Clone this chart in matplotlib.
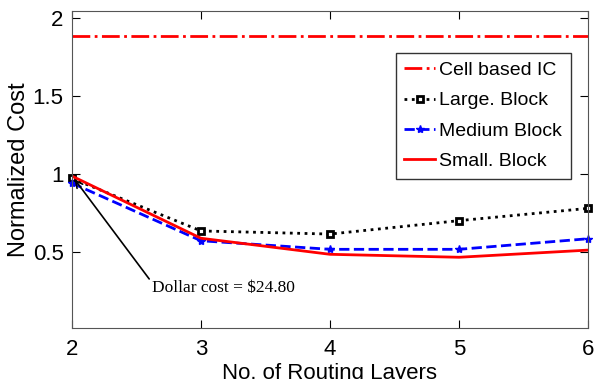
import numpy as np
import matplotlib.pyplot as plt

layers = [2, 3, 4, 5, 6]
cell_ic = [1.885, 1.885, 1.885, 1.885, 1.885]
large_block = [0.97, 0.633, 0.613, 0.699, 0.778]
medium_block = [0.94, 0.57, 0.515, 0.515, 0.583]
small_block = [0.985, 0.586, 0.483, 0.464, 0.51]

plt.rcParams['font.family'] = ['Liberation Sans', 'DejaVu Sans']

fig = plt.figure(figsize=(5.94, 3.79), dpi=100)
ax = fig.add_axes([0.1212, 0.1346, 0.8687, 0.8364])

ax.plot(layers, cell_ic, '-.', color='red', lw=2, label='Cell based IC')
ax.plot(layers, large_block, ':', color='black', lw=2, marker='s', ms=5,
        mfc='white', mec='black', mew=2, label='Large. Block', clip_on=False)
ax.plot(layers, medium_block, '--', color='blue', lw=2, marker='*', ms=6,
        label='Medium Block', clip_on=False)
ax.plot(layers, small_block, '-', color='red', lw=2, label='Small. Block')

ax.annotate('Dollar cost = $24.80', xy=(2.02, 0.965), xytext=(2.62, 0.265),
            fontsize=12.5, family='Liberation Serif', va='center',
            arrowprops=dict(arrowstyle='->', color='black', lw=1.2,
                            shrinkA=0, shrinkB=0, relpos=(0, 0.85)))

ax.set_xlim(2, 6)
ax.set_ylim(0.01, 2.045)
ax.set_xticks(layers)
ax.set_yticks([0.5, 1, 1.5, 2])
ax.set_yticklabels(['0.5', '1', '1.5', '2'])
ax.tick_params(direction='in', top=True, right=True, labelsize=16, length=6)
ax.tick_params(axis='y', pad=6)
ax.tick_params(axis='x', pad=8)
for s in ax.spines.values():
    s.set_color('#555555')
ax.set_xlabel('No. of Routing Layers', fontsize=16, labelpad=2)
ax.set_ylabel('Normalized Cost', fontsize=17, labelpad=2)

leg = ax.legend(loc='upper right', bbox_to_anchor=(0.967, 0.868), fontsize=14,
                frameon=True, fancybox=False, edgecolor='black',
                handlelength=1.6, handletextpad=0.2, borderpad=0.45,
                labelspacing=0.65, borderaxespad=0)
leg.get_frame().set_linewidth(1.0)

plt.savefig('out.png', dpi=100)
